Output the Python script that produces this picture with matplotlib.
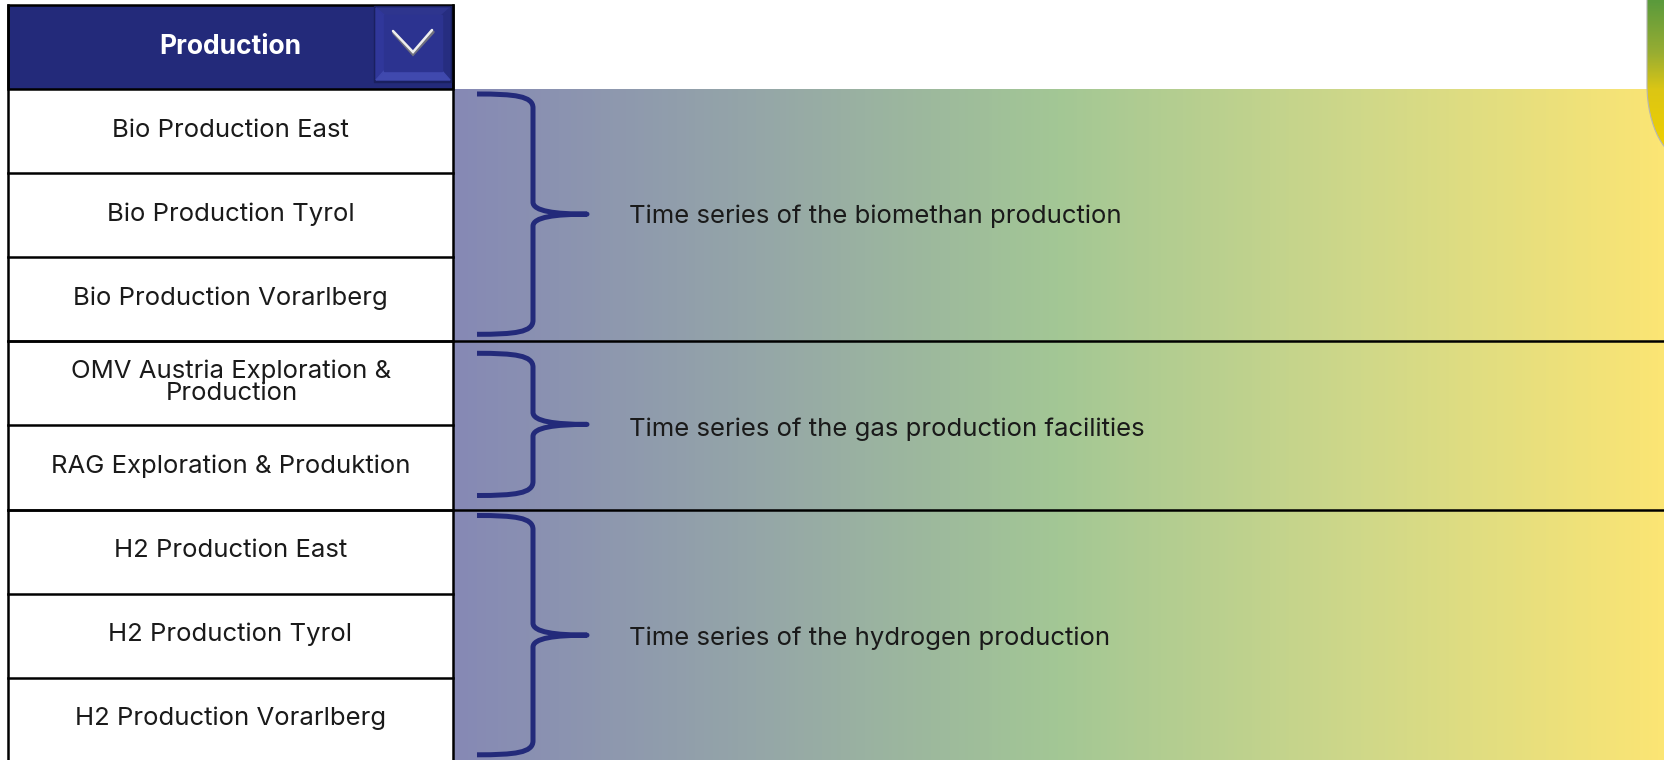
import numpy as np
import matplotlib.pyplot as plt
from matplotlib.path import Path
from matplotlib.patches import PathPatch, Rectangle, Polygon
from matplotlib.colors import LinearSegmentedColormap

plt.rcParams['font.family'] = ['Inter', 'DejaVu Sans']

# Daten
header = "Production"
rows = ["Bio Production East", "Bio Production Tyrol", "Bio Production Vorarlberg",
        "OMV Austria Exploration &\nProduction", "RAG Exploration & Produktion",
        "H2 Production East", "H2 Production Tyrol", "H2 Production Vorarlberg"]
group_sizes = [3, 2, 3]
group_labels = ["Time series of the biomethan production",
                "Time series of the gas production facilities",
                "Time series of the hydrogen production"]

W, H = 1664, 760
navy = "#232a7a"
fs = 18.5

fig = plt.figure(figsize=(W / 100, H / 100), dpi=100)
ax = fig.add_axes([0, 0, 1, 1])
ax.set_xlim(0, W)
ax.set_ylim(H, 0)
ax.axis("off")

# Tabelle
x0, x1 = 8, 453
top, head_b = 5, 89
row_h = 84.1
edges = [head_b + i * row_h for i in range(len(rows) + 1)]

# Hintergrund-Verlauf
grad = LinearSegmentedColormap.from_list(
    "g", [(0, "#8689b5"), (0.25, "#95a6a8"), (0.5, "#a3c795"),
          (0.75, "#cfd889"), (1, "#fbe574")])
ax.imshow(np.linspace(0, 1, 400)[None, :], cmap=grad, aspect="auto",
          extent=(x1, W, H, head_b), zorder=0)

# Ecke oben rechts
verts = [(1647, -10), (1647, 85), (1647, 126), (1665, 160), (1687, 160),
         (1720, 160), (1720, -10), (1647, -10)]
codes = [Path.MOVETO, Path.LINETO, Path.CURVE4, Path.CURVE4, Path.CURVE4,
         Path.LINETO, Path.LINETO, Path.CLOSEPOLY]
corner = PathPatch(Path(verts, codes), facecolor="none", edgecolor="#b5b5b5", lw=0.8, zorder=2)
ax.add_patch(corner)
cgrad = LinearSegmentedColormap.from_list(
    "c", [(0, "#5a9a3c"), (0.35, "#98ad32"), (0.6, "#dcc614"), (1, "#f0d000")])
im = ax.imshow(np.linspace(0, 1, 200)[:, None], cmap=cgrad, aspect="auto",
               extent=(1640, 1700, 150, 0), zorder=1)
im.set_clip_path(corner)

# Kopfzeile
ax.add_patch(Rectangle((x0, top), x1 - x0, head_b - top, facecolor=navy,
                       edgecolor="black", lw=1.8, zorder=3))
ax.text((x0 + x1) / 2, (top + head_b) / 2, header, color="white",
        fontsize=19, fontweight="bold", ha="center", va="center", zorder=5)

# Dropdown-Knopf
bx0, by0, bx1, by1 = 374, 6, 452, 82
ix0, iy0, ix1, iy1 = 384, 15, 442, 71
ax.add_patch(Rectangle((bx0, by0), bx1 - bx0, by1 - by0, color="#1a2060", zorder=4))
ax.add_patch(Polygon([(bx0 + 2, by0 + 2), (bx1 - 2, by0 + 2), (ix1, iy0), (ix0, iy0)], color="#2e358e", zorder=4))
ax.add_patch(Polygon([(bx0 + 2, by0 + 2), (ix0, iy0), (ix0, iy1), (bx0 + 2, by1 - 2)], color="#30379a", zorder=4))
ax.add_patch(Polygon([(bx1 - 2, by0 + 2), (bx1 - 2, by1 - 2), (ix1, iy1), (ix1, iy0)], color="#262d80", zorder=4))
ax.add_patch(Polygon([(bx0 + 2, by1 - 2), (ix0, iy1), (ix1, iy1), (bx1 - 2, by1 - 2)], color="#4049ae", zorder=4))
ax.add_patch(Rectangle((ix0, iy0), ix1 - ix0, iy1 - iy0, color="#2c3390", zorder=4))
ax.plot([394, 413, 433], [33, 54, 32], color="#70707e", lw=2.4, zorder=5,
        solid_capstyle="round", solid_joinstyle="miter")
ax.plot([393, 413, 432], [31, 52, 30], color="#eeeeee", lw=1.8, zorder=6,
        solid_capstyle="round", solid_joinstyle="miter")

# Zeilen
ax.add_patch(Rectangle((x0, head_b), x1 - x0, H + 10 - head_b, facecolor="white",
                       edgecolor="none", zorder=2))
for i, lab in enumerate(rows):
    yc = (edges[i] + edges[i + 1]) / 2
    if "\n" in lab:
        ax.text((x0 + x1) / 2 + 1, yc - 1, lab, fontsize=fs, ha="center", va="center",
                linespacing=0.92, color="#1a1a1a", zorder=5)
    else:
        ax.text((x0 + x1) / 2, yc - 1, lab, fontsize=fs, ha="center", va="center",
                color="#1a1a1a", zorder=5)
for y in edges[1:-1]:
    ax.plot([x0, x1], [y, y], color="black", lw=1.8, zorder=4)
ax.plot([x0, x0], [top, H + 5], color="black", lw=1.8, zorder=4)
ax.plot([x1, x1], [top, H + 5], color="black", lw=1.8, zorder=4)

# Gruppen, Klammern, Beschriftungen
xl, xs, xt = 477, 533, 587
pads = [(5, 7), (12, 14), (6, 7)]
text_dy = [2, 5, 3]
start = 0
for (n, lab), (pt, pb), dy in zip(zip(group_sizes, group_labels), pads, text_dy):
    ya, yb = edges[start], edges[start + n]
    start += n
    yt, ybt = ya + pt, yb - pb
    ym = (yt + ybt) / 2
    v = [(xl, yt), (xl + 38, yt), (xs, yt + 2), (xs, yt + 14),
         (xs, ym - 12),
         (xs, ym - 3), (xs + 22, ym), (xt, ym),
         (xs + 22, ym), (xs, ym + 3), (xs, ym + 12),
         (xs, ybt - 14),
         (xs, ybt - 2), (xl + 38, ybt), (xl, ybt)]
    c = [Path.MOVETO, Path.CURVE4, Path.CURVE4, Path.CURVE4, Path.LINETO,
         Path.CURVE4, Path.CURVE4, Path.CURVE4, Path.CURVE4, Path.CURVE4, Path.CURVE4,
         Path.LINETO, Path.CURVE4, Path.CURVE4, Path.CURVE4]
    ax.add_patch(PathPatch(Path(v, c), facecolor="none", edgecolor=navy, lw=3.6,
                           capstyle="butt", joinstyle="round", zorder=5))
    ax.text(629, ym + dy, lab, fontsize=fs, ha="left", va="center", color="#1a1a1a", zorder=5)
    if yb < H:
        ax.plot([x0, W], [yb, yb], color="black", lw=1.8, zorder=4)

fig.savefig("out.png", dpi=100)
